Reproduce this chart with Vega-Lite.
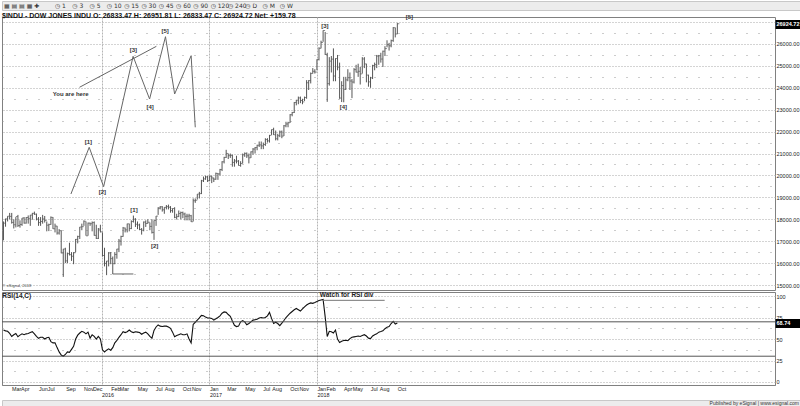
{
"$schema":"https://vega.github.io/schema/vega-lite/v6.json",
"padding":0,
"background":"white",
"spacing":0,
"config":{"view":{"stroke":null},"font":"Liberation Sans Narrow, Liberation Sans, sans-serif","axis":{"labelFont":"Liberation Sans Narrow, Liberation Sans, sans-serif","labelColor":"#222","labelOverlap":false},"axisX":{"labelOverlap":false}},
"datasets":{
"toolbar":[{"i":-2.95,"t":"▦ ▤ ▤ ▦ ✚"},{"i":0,"t":"◷ 1"},{"i":1,"t":"◷ 3"},{"i":2,"t":"◷ 5"},{"i":3,"t":"◷ 10"},{"i":4,"t":"◷ 15"},{"i":5,"t":"◷ 30"},{"i":6,"t":"◷ 45"},{"i":7,"t":"◷ 60"},{"i":8,"t":"◷ 90"},{"i":9,"t":"◷ 120"},{"i":10,"t":"◷ 240"},{"i":11,"t":"◷ D"},{"i":12,"t":"◷ M"},{"i":13,"t":"◷ W"}],
"footer":[{"t":"Published by eSignal | www.esignal.com"}],
"bars":[
{"date":"2015-02-02","h":17900,"l":17040,"c":17824,"rsi":60.5},
{"date":"2015-02-09","h":18030,"l":17660,"c":18019,"rsi":59.5},
{"date":"2015-02-16","h":18140,"l":17900,"c":18140,"rsi":59},
{"date":"2015-02-23","h":18290,"l":18000,"c":18133,"rsi":56.5},
{"date":"2015-03-02","h":18290,"l":17800,"c":17856,"rsi":53},
{"date":"2015-03-09","h":17995,"l":17580,"c":17749,"rsi":55},
{"date":"2015-03-16","h":18100,"l":17630,"c":18128,"rsi":56.5},
{"date":"2015-03-23","h":18200,"l":17650,"c":17713,"rsi":52.7},
{"date":"2015-03-30","h":17950,"l":17620,"c":17763,"rsi":54.5},
{"date":"2015-04-06","h":18060,"l":17700,"c":18057,"rsi":56},
{"date":"2015-04-13","h":18100,"l":17800,"c":17826,"rsi":55},
{"date":"2015-04-20","h":18100,"l":17800,"c":18080,"rsi":56},
{"date":"2015-04-27","h":18175,"l":17800,"c":18024,"rsi":56.5},
{"date":"2015-05-04","h":18200,"l":17700,"c":18191,"rsi":57.5},
{"date":"2015-05-11","h":18290,"l":17980,"c":18272,"rsi":58.5},
{"date":"2015-05-18","h":18350,"l":18200,"c":18232,"rsi":56},
{"date":"2015-05-25","h":18260,"l":17950,"c":18010,"rsi":53},
{"date":"2015-06-01","h":18100,"l":17700,"c":17849,"rsi":50.8},
{"date":"2015-06-08","h":18100,"l":17700,"c":17898,"rsi":52},
{"date":"2015-06-15","h":18200,"l":17800,"c":18015,"rsi":52},
{"date":"2015-06-22","h":18150,"l":17850,"c":17947,"rsi":50},
{"date":"2015-06-29","h":17900,"l":17450,"c":17730,"rsi":51.5},
{"date":"2015-07-06","h":17800,"l":17460,"c":17760,"rsi":52},
{"date":"2015-07-13","h":18130,"l":17750,"c":18087,"rsi":47},
{"date":"2015-07-20","h":18100,"l":17560,"c":17568,"rsi":45.5},
{"date":"2015-07-27","h":17800,"l":17400,"c":17690,"rsi":45.5},
{"date":"2015-08-03","h":17700,"l":17300,"c":17373,"rsi":40},
{"date":"2015-08-10","h":17550,"l":17300,"c":17477,"rsi":35},
{"date":"2015-08-17","h":17500,"l":16450,"c":16460,"rsi":31.4},
{"date":"2015-08-24","h":16650,"l":15370,"c":16643,"rsi":30},
{"date":"2015-08-31","h":16700,"l":16000,"c":16102,"rsi":32},
{"date":"2015-09-07","h":16480,"l":16000,"c":16433,"rsi":35},
{"date":"2015-09-14","h":16930,"l":16350,"c":16384,"rsi":34.5},
{"date":"2015-09-21","h":16500,"l":16100,"c":16314,"rsi":38},
{"date":"2015-09-28","h":16500,"l":15950,"c":16472,"rsi":41.5},
{"date":"2015-10-05","h":17100,"l":16500,"c":17084,"rsi":50},
{"date":"2015-10-12","h":17250,"l":16900,"c":17216,"rsi":54.5},
{"date":"2015-10-19","h":17650,"l":17100,"c":17646,"rsi":57},
{"date":"2015-10-26","h":17800,"l":17500,"c":17663,"rsi":59},
{"date":"2015-11-02","h":17950,"l":17700,"c":17910,"rsi":58},
{"date":"2015-11-09","h":17900,"l":17250,"c":17245,"rsi":56},
{"date":"2015-11-16","h":17850,"l":17250,"c":17824,"rsi":58},
{"date":"2015-11-23","h":17850,"l":17700,"c":17798,"rsi":51},
{"date":"2015-11-30","h":17900,"l":17450,"c":17848,"rsi":55},
{"date":"2015-12-07","h":17900,"l":17250,"c":17265,"rsi":53},
{"date":"2015-12-14","h":17750,"l":17100,"c":17128,"rsi":50},
{"date":"2015-12-21","h":17600,"l":17100,"c":17552,"rsi":53},
{"date":"2015-12-28","h":17750,"l":17400,"c":17425,"rsi":50},
{"date":"2016-01-04","h":17400,"l":16300,"c":16346,"rsi":37.5},
{"date":"2016-01-11","h":16700,"l":15850,"c":15988,"rsi":35},
{"date":"2016-01-18","h":16100,"l":15450,"c":16093,"rsi":37},
{"date":"2016-01-25","h":16500,"l":15850,"c":16466,"rsi":38.5},
{"date":"2016-02-01","h":16500,"l":15950,"c":16204,"rsi":37},
{"date":"2016-02-08","h":16300,"l":15500,"c":15974,"rsi":40},
{"date":"2016-02-15","h":16500,"l":15950,"c":16392,"rsi":45.5},
{"date":"2016-02-22","h":16650,"l":16200,"c":16640,"rsi":48.5},
{"date":"2016-02-29","h":17100,"l":16500,"c":17006,"rsi":52},
{"date":"2016-03-07","h":17250,"l":16800,"c":17213,"rsi":55},
{"date":"2016-03-14","h":17650,"l":17200,"c":17602,"rsi":58.5},
{"date":"2016-03-21","h":17620,"l":17400,"c":17516,"rsi":57.5},
{"date":"2016-03-28","h":17800,"l":17400,"c":17792,"rsi":58.5},
{"date":"2016-04-04","h":17800,"l":17450,"c":17577,"rsi":60.5},
{"date":"2016-04-11","h":17950,"l":17550,"c":17897,"rsi":58.5},
{"date":"2016-04-18","h":18170,"l":17850,"c":18003,"rsi":57.5},
{"date":"2016-04-25","h":18050,"l":17650,"c":17774,"rsi":58.5},
{"date":"2016-05-02","h":17900,"l":17550,"c":17740,"rsi":58},
{"date":"2016-05-09","h":17800,"l":17500,"c":17535,"rsi":57.5},
{"date":"2016-05-16","h":17600,"l":17300,"c":17500,"rsi":55.5},
{"date":"2016-05-23","h":17900,"l":17450,"c":17873,"rsi":57},
{"date":"2016-05-30","h":17950,"l":17650,"c":17807,"rsi":58},
{"date":"2016-06-06","h":18000,"l":17800,"c":17865,"rsi":56},
{"date":"2016-06-13","h":17850,"l":17500,"c":17675,"rsi":53},
{"date":"2016-06-20","h":18000,"l":17350,"c":17400,"rsi":51},
{"date":"2016-06-27","h":17950,"l":17060,"c":17949,"rsi":60},
{"date":"2016-07-04","h":18150,"l":17700,"c":18146,"rsi":64},
{"date":"2016-07-11","h":18550,"l":18200,"c":18516,"rsi":66.4},
{"date":"2016-07-18","h":18600,"l":18450,"c":18570,"rsi":65},
{"date":"2016-07-25","h":18600,"l":18350,"c":18432,"rsi":64.5},
{"date":"2016-08-01","h":18550,"l":18250,"c":18543,"rsi":65},
{"date":"2016-08-08","h":18650,"l":18450,"c":18576,"rsi":65},
{"date":"2016-08-15","h":18670,"l":18450,"c":18552,"rsi":64},
{"date":"2016-08-22","h":18600,"l":18300,"c":18395,"rsi":62.5},
{"date":"2016-08-29","h":18500,"l":18300,"c":18491,"rsi":58},
{"date":"2016-09-05","h":18550,"l":18050,"c":18085,"rsi":52.7},
{"date":"2016-09-12","h":18250,"l":17990,"c":18123,"rsi":54},
{"date":"2016-09-19","h":18400,"l":18100,"c":18261,"rsi":55},
{"date":"2016-09-26","h":18350,"l":18000,"c":18308,"rsi":56},
{"date":"2016-10-03","h":18350,"l":18050,"c":18240,"rsi":55},
{"date":"2016-10-10","h":18300,"l":17950,"c":18138,"rsi":55},
{"date":"2016-10-17","h":18250,"l":17950,"c":18145,"rsi":56},
{"date":"2016-10-24","h":18250,"l":17950,"c":18161,"rsi":50},
{"date":"2016-10-31","h":18200,"l":17880,"c":17888,"rsi":45.5},
{"date":"2016-11-07","h":18950,"l":17900,"c":18847,"rsi":67},
{"date":"2016-11-14","h":18950,"l":18750,"c":18868,"rsi":69.5},
{"date":"2016-11-21","h":19150,"l":18900,"c":19152,"rsi":72},
{"date":"2016-11-28","h":19250,"l":18950,"c":19171,"rsi":74.5},
{"date":"2016-12-05","h":19800,"l":19150,"c":19757,"rsi":77.5},
{"date":"2016-12-12","h":19950,"l":19700,"c":19843,"rsi":77},
{"date":"2016-12-19","h":19990,"l":19800,"c":19934,"rsi":75.5},
{"date":"2016-12-26","h":19980,"l":19700,"c":19763,"rsi":74.5},
{"date":"2017-01-02","h":19999,"l":19750,"c":19964,"rsi":74.5},
{"date":"2017-01-09","h":19990,"l":19650,"c":19886,"rsi":74},
{"date":"2017-01-16","h":19900,"l":19700,"c":19827,"rsi":72},
{"date":"2017-01-23","h":20130,"l":19800,"c":20094,"rsi":73.5},
{"date":"2017-01-30","h":20100,"l":19800,"c":20071,"rsi":75},
{"date":"2017-02-06","h":20300,"l":20000,"c":20270,"rsi":77},
{"date":"2017-02-13","h":20650,"l":20200,"c":20624,"rsi":80},
{"date":"2017-02-20","h":20850,"l":20550,"c":20822,"rsi":81.5},
{"date":"2017-02-27","h":21170,"l":20800,"c":21005,"rsi":81},
{"date":"2017-03-06","h":21000,"l":20750,"c":20903,"rsi":78.5},
{"date":"2017-03-13","h":21000,"l":20800,"c":20914,"rsi":76.5},
{"date":"2017-03-20","h":20950,"l":20400,"c":20596,"rsi":71},
{"date":"2017-03-27","h":20750,"l":20400,"c":20663,"rsi":66},
{"date":"2017-04-03","h":20900,"l":20550,"c":20656,"rsi":64.5},
{"date":"2017-04-10","h":20700,"l":20450,"c":20453,"rsi":65},
{"date":"2017-04-17","h":20650,"l":20400,"c":20548,"rsi":70},
{"date":"2017-04-24","h":21000,"l":20550,"c":20940,"rsi":71.5},
{"date":"2017-05-01","h":21050,"l":20850,"c":21007,"rsi":70},
{"date":"2017-05-08","h":21050,"l":20800,"c":20897,"rsi":66.5},
{"date":"2017-05-15","h":21000,"l":20550,"c":20805,"rsi":68},
{"date":"2017-05-22","h":21100,"l":20800,"c":21080,"rsi":70},
{"date":"2017-05-29","h":21250,"l":20950,"c":21206,"rsi":72},
{"date":"2017-06-05","h":21300,"l":21000,"c":21272,"rsi":72.5},
{"date":"2017-06-12","h":21400,"l":21150,"c":21384,"rsi":73},
{"date":"2017-06-19","h":21550,"l":21300,"c":21395,"rsi":74.5},
{"date":"2017-06-26","h":21550,"l":21200,"c":21350,"rsi":75},
{"date":"2017-07-03","h":21500,"l":21200,"c":21414,"rsi":74.5},
{"date":"2017-07-10","h":21700,"l":21350,"c":21638,"rsi":75},
{"date":"2017-07-17","h":21700,"l":21500,"c":21580,"rsi":77},
{"date":"2017-07-24","h":21850,"l":21500,"c":21830,"rsi":81},
{"date":"2017-07-31","h":22100,"l":21850,"c":22093,"rsi":74},
{"date":"2017-08-07","h":22180,"l":21850,"c":21858,"rsi":68},
{"date":"2017-08-14","h":22050,"l":21600,"c":21675,"rsi":69.5},
{"date":"2017-08-21","h":21900,"l":21600,"c":21814,"rsi":68},
{"date":"2017-08-28","h":22050,"l":21750,"c":21988,"rsi":65.5},
{"date":"2017-09-04","h":22050,"l":21700,"c":21798,"rsi":68.5},
{"date":"2017-09-11","h":22300,"l":21800,"c":22268,"rsi":71.5},
{"date":"2017-09-18","h":22450,"l":22200,"c":22350,"rsi":75},
{"date":"2017-09-25","h":22450,"l":22200,"c":22405,"rsi":77.5},
{"date":"2017-10-02","h":22800,"l":22400,"c":22774,"rsi":80},
{"date":"2017-10-09","h":22900,"l":22700,"c":22871,"rsi":82},
{"date":"2017-10-16","h":23350,"l":22850,"c":23329,"rsi":84},
{"date":"2017-10-23","h":23450,"l":23200,"c":23434,"rsi":85.5},
{"date":"2017-10-30","h":23600,"l":23250,"c":23539,"rsi":84},
{"date":"2017-11-06","h":23600,"l":23300,"c":23422,"rsi":82.5},
{"date":"2017-11-13","h":23500,"l":23250,"c":23358,"rsi":85},
{"date":"2017-11-20","h":23600,"l":23400,"c":23558,"rsi":87.5},
{"date":"2017-11-27","h":24350,"l":23500,"c":24231,"rsi":89.5},
{"date":"2017-12-04","h":24350,"l":23900,"c":24329,"rsi":91},
{"date":"2017-12-11","h":24700,"l":24200,"c":24651,"rsi":92},
{"date":"2017-12-18","h":24900,"l":24650,"c":24754,"rsi":91.5},
{"date":"2017-12-25","h":24850,"l":24650,"c":24719,"rsi":92.5},
{"date":"2018-01-01","h":25300,"l":24800,"c":25295,"rsi":93.6},
{"date":"2018-01-08","h":25850,"l":25250,"c":25803,"rsi":94.7},
{"date":"2018-01-15","h":26150,"l":25800,"c":26071,"rsi":95.5},
{"date":"2018-01-22","h":26620,"l":26100,"c":26616,"rsi":96},
{"date":"2018-01-29","h":26550,"l":25500,"c":25520,"rsi":76},
{"date":"2018-02-05","h":25600,"l":23360,"c":24190,"rsi":53},
{"date":"2018-02-12","h":25400,"l":24100,"c":25219,"rsi":59},
{"date":"2018-02-19","h":25450,"l":24700,"c":25309,"rsi":58.5},
{"date":"2018-02-26","h":25800,"l":24300,"c":24538,"rsi":57},
{"date":"2018-03-05","h":25350,"l":24300,"c":25335,"rsi":60.5},
{"date":"2018-03-12","h":25500,"l":24800,"c":24946,"rsi":50},
{"date":"2018-03-19","h":25150,"l":23500,"c":23533,"rsi":46},
{"date":"2018-03-26","h":24300,"l":23350,"c":24103,"rsi":47.5},
{"date":"2018-04-02","h":24500,"l":23340,"c":23933,"rsi":48.3},
{"date":"2018-04-09","h":24500,"l":23900,"c":24360,"rsi":48.5},
{"date":"2018-04-16","h":24850,"l":24300,"c":24463,"rsi":48},
{"date":"2018-04-23","h":24700,"l":23900,"c":24311,"rsi":50.5},
{"date":"2018-04-30","h":24400,"l":23530,"c":24263,"rsi":52},
{"date":"2018-05-07","h":24900,"l":24200,"c":24831,"rsi":52.5},
{"date":"2018-05-14","h":25050,"l":24700,"c":24715,"rsi":53},
{"date":"2018-05-21","h":25100,"l":24500,"c":24753,"rsi":53.5},
{"date":"2018-05-28","h":24950,"l":24150,"c":24635,"rsi":53},
{"date":"2018-06-04","h":25400,"l":24650,"c":25317,"rsi":54},
{"date":"2018-06-11","h":25400,"l":24900,"c":25090,"rsi":55},
{"date":"2018-06-18","h":25100,"l":24250,"c":24581,"rsi":53.5},
{"date":"2018-06-25","h":24600,"l":24050,"c":24271,"rsi":51},
{"date":"2018-07-02","h":24500,"l":24000,"c":24456,"rsi":50.5},
{"date":"2018-07-09","h":25050,"l":24400,"c":25019,"rsi":53.5},
{"date":"2018-07-16","h":25150,"l":24800,"c":25058,"rsi":55},
{"date":"2018-07-23","h":25500,"l":24900,"c":25451,"rsi":56},
{"date":"2018-07-30","h":25500,"l":25050,"c":25463,"rsi":58},
{"date":"2018-08-06","h":25600,"l":25150,"c":25313,"rsi":58.7},
{"date":"2018-08-13","h":25700,"l":24950,"c":25669,"rsi":59.5},
{"date":"2018-08-20","h":25900,"l":25450,"c":25790,"rsi":62},
{"date":"2018-08-27","h":26170,"l":25850,"c":25965,"rsi":63.8},
{"date":"2018-09-03","h":26050,"l":25700,"c":25917,"rsi":64.4},
{"date":"2018-09-10","h":26200,"l":25850,"c":26154,"rsi":68},
{"date":"2018-09-17","h":26770,"l":26100,"c":26743,"rsi":70.5},
{"date":"2018-09-24","h":26750,"l":26300,"c":26458,"rsi":67.5},
{"date":"2018-10-01","h":26952,"l":26450,"c":26925,"rsi":68.74}
],
"sketch":[
{"g":"wave","o":0,"date":"2015-09-19","p":19153},
{"g":"wave","o":1,"date":"2015-11-20","p":21285},
{"g":"wave","o":2,"date":"2016-01-08","p":19487},
{"g":"wave","o":3,"date":"2016-04-17","p":25438},
{"g":"wave","o":4,"date":"2016-06-12","p":23489},
{"g":"wave","o":5,"date":"2016-08-05","p":26333},
{"g":"wave","o":6,"date":"2016-09-05","p":23717},
{"g":"wave","o":7,"date":"2016-10-31","p":25466},
{"g":"wave","o":8,"date":"2016-11-14","p":22198},
{"g":"ptr","o":0,"date":"2015-10-18","p":24023},
{"g":"ptr","o":1,"date":"2016-07-05","p":25894},
{"g":"base","o":0,"date":"2016-02-08","p":15503},
{"g":"base","o":1,"date":"2016-04-18","p":15503}
],
"notes":[
{"date":"2015-09-18","p":23704,"t":"You are here"},
{"date":"2015-11-17","p":21540,"t":"[1]"},
{"date":"2016-01-04","p":19231,"t":"[2]"},
{"date":"2016-04-18","p":25739,"t":"[3]"},
{"date":"2016-06-14","p":23138,"t":"[4]"},
{"date":"2016-08-04","p":26579,"t":"[5]"},
{"date":"2016-04-20","p":18437,"t":"[1]"},
{"date":"2016-06-29","p":16794,"t":"[2]"},
{"date":"2018-01-28","p":26835,"t":"[3]"},
{"date":"2018-04-01","p":23124,"t":"[4]"},
{"date":"2018-11-11","p":27218,"t":"[5]"}
],
"copy":[{"date":"2015-01-30","p":14950,"t":"© eSignal, 2018"}],
"rsinotes":[
{"date":"2015-01-29","v":100,"t":"RSI(14,C)"},
{"date":"2018-01-11","v":101,"t":"Watch for RSI div"}
],
"watch":[{"date":"2018-01-21","date2":"2018-08-19","v":95}],
"levels":[{"v":70},{"v":30}]
},
"vconcat":[
{
"width":800,"height":9,
"view":{"fill":"#ececec","stroke":"#c8c8c8"},
"data":{"name":"toolbar"},
"mark":{"type":"text","align":"left","baseline":"middle","fontSize":6,"font":"DejaVu Sans","color":"#333"},
"encoding":{
"x":{"field":"i","type":"quantitative","scale":{"domain":[-3.06,43.18],"nice":false,"zero":false},"axis":null},
"text":{"field":"t"}
}
},
{
"width":773,"height":273,
"view":{"fill":"white","stroke":"#808080"},
"title":{"text":"$INDU - DOW JONES INDU    O: 26833.47    H: 26951.81    L: 26833.47    C: 26924.72    Net: +159.78","anchor":"start","fontSize":7,"fontWeight":"bold","offset":-5,"color":"#111","font":"Liberation Sans Narrow, Liberation Sans, sans-serif"},
"resolve":{"axis":{"y":"independent"}},
"layer":[
{
"data":{"name":"bars"},
"mark":{"type":"rule","color":"#555","strokeWidth":1},
"encoding":{
"x":{"field":"date","type":"temporal","scale":{"type":"utc","domain":[{"year":2015,"month":1,"date":28,"utc":true},{"year":2022,"month":4,"date":5,"utc":true}]},
"axis":{"values":[{"year":2016,"month":1,"date":1,"utc":true},{"year":2017,"month":1,"date":1,"utc":true},{"year":2018,"month":1,"date":1,"utc":true}],"tickCount":100,"labels":false,"ticks":false,"domain":false,"grid":true,"gridColor":"#b5b5b5","gridDash":[2,1],"title":null}},
"y":{"field":"h","type":"quantitative","scale":{"domain":[14772,27232],"nice":false,"zero":false},
"axis":{"orient":"right","values":[15000,16000,17000,18000,19000,20000,21000,22000,23000,24000,25000,26000,27000],"tickCount":100,"labelExpr":"datum.value == 27000 ? '' : format(datum.value, '.2f')","ticks":false,"domain":false,"grid":true,"gridDash":[1,2],"gridColor":"#a8a8a8","labelFontSize":5.5,"labelPadding":1,"title":null}},
"y2":{"field":"l"}
}
},
{
"data":{"name":"bars"},
"mark":{"type":"tick","orient":"horizontal","size":2,"thickness":1,"color":"#555","xOffset":1},
"encoding":{
"x":{"field":"date","type":"temporal"},
"y":{"field":"c","type":"quantitative","axis":{"orient":"left","values":[15500,16500,17500,18500,19500,20500,21500,22500,23500,24500,25500,26500],"tickCount":100,"labels":false,"ticks":false,"domain":false,"grid":true,"gridDash":[1,11],"gridColor":"#999","title":null}}
}
},
{
"data":{"name":"sketch"},
"mark":{"type":"line","color":"#666","strokeWidth":1},
"encoding":{
"x":{"field":"date","type":"temporal"},
"y":{"field":"p","type":"quantitative","axis":null},
"order":{"field":"o"},
"detail":{"field":"g"}
}
},
{
"data":{"name":"copy"},
"mark":{"type":"text","align":"left","baseline":"middle","fontSize":4,"color":"#444"},
"encoding":{
"x":{"field":"date","type":"temporal"},
"y":{"field":"p","type":"quantitative","axis":null},
"text":{"field":"t"}
}
},
{
"data":{"name":"notes"},
"mark":{"type":"text","baseline":"middle","fontSize":6,"fontWeight":"bold","color":"#333"},
"encoding":{
"x":{"field":"date","type":"temporal"},
"y":{"field":"p","type":"quantitative","axis":{"orient":"right","values":[26924.72],"format":".2f","grid":false,"domain":false,"ticks":true,"tickSize":26,"tickWidth":9,"tickColor":"#000","labelColor":"#fff","labelFontWeight":"bold","labelFontSize":5.5,"labelPadding":-25,"title":null}},
"text":{"field":"t"}
}
}
]
},
{
"width":773,"height":93,
"view":{"fill":"white","stroke":"#808080"},
"resolve":{"axis":{"y":"independent"}},
"layer":[
{
"data":{"name":"bars"},
"mark":{"type":"line","color":"#111","strokeWidth":1.1},
"encoding":{
"x":{"field":"date","type":"temporal","scale":{"type":"utc","domain":[{"year":2015,"month":1,"date":28,"utc":true},{"year":2022,"month":4,"date":5,"utc":true}]},
"axis":{"values":[
{"year":2015,"month":3,"date":1,"utc":true},{"year":2015,"month":4,"date":1,"utc":true},{"year":2015,"month":6,"date":1,"utc":true},{"year":2015,"month":7,"date":1,"utc":true},{"year":2015,"month":9,"date":1,"utc":true},{"year":2015,"month":11,"date":1,"utc":true},{"year":2015,"month":12,"date":1,"utc":true},
{"year":2016,"month":1,"date":1,"utc":true},{"year":2016,"month":2,"date":1,"utc":true},{"year":2016,"month":3,"date":1,"utc":true},{"year":2016,"month":5,"date":1,"utc":true},{"year":2016,"month":7,"date":1,"utc":true},{"year":2016,"month":8,"date":1,"utc":true},{"year":2016,"month":10,"date":1,"utc":true},{"year":2016,"month":11,"date":1,"utc":true},
{"year":2017,"month":1,"date":1,"utc":true},{"year":2017,"month":3,"date":1,"utc":true},{"year":2017,"month":5,"date":1,"utc":true},{"year":2017,"month":7,"date":1,"utc":true},{"year":2017,"month":8,"date":1,"utc":true},{"year":2017,"month":10,"date":1,"utc":true},{"year":2017,"month":11,"date":1,"utc":true},
{"year":2018,"month":1,"date":1,"utc":true},{"year":2018,"month":2,"date":1,"utc":true},{"year":2018,"month":4,"date":1,"utc":true},{"year":2018,"month":5,"date":1,"utc":true},{"year":2018,"month":7,"date":1,"utc":true},{"year":2018,"month":8,"date":1,"utc":true},{"year":2018,"month":10,"date":1,"utc":true}],
"tickCount":100,
"labelExpr":"utcmonth(datum.value) == 0 ? [utcyear(datum.value) == 2016 ? ' ' : 'Jan', '' + utcyear(datum.value)] : utcFormat(datum.value, '%b')",
"labelAlign":"left","labelBaseline":"top","labelFontSize":5.4,"labelLineHeight":6.5,"labelOverlap":false,"labelSeparation":0,"labelFlush":false,"labelBound":false,"labelPadding":1,
"ticks":false,"domain":true,"domainColor":"#808080",
"grid":true,"gridColor":"#b5b5b5","gridDash":[2,1],"gridOpacity":{"condition":{"test":"utcmonth(datum.value) == 0","value":1},"value":0},
"title":null}},
"y":{"field":"rsi","type":"quantitative","scale":{"domain":[-3.5,104.7],"nice":false,"zero":false},
"axis":{"orient":"right","values":[0,25,50,75,100],"tickCount":100,"format":"d","ticks":false,"domain":false,"grid":true,"gridDash":[1,2],"gridColor":"#a8a8a8","labelFontSize":5.5,"labelPadding":1,"title":null}}
}
},
{
"data":{"name":"levels"},
"mark":{"type":"rule","color":"#555","strokeWidth":1},
"encoding":{
"y":{"field":"v","type":"quantitative","axis":{"orient":"left","values":[12.5,37.5,62.5,87.5],"tickCount":100,"labels":false,"ticks":false,"domain":false,"grid":true,"gridDash":[1,11],"gridColor":"#999","title":null}}
}
},
{
"data":{"name":"watch"},
"mark":{"type":"rule","color":"#777","strokeWidth":1},
"encoding":{
"x":{"field":"date","type":"temporal"},
"x2":{"field":"date2"},
"y":{"field":"v","type":"quantitative","axis":null}
}
},
{
"data":{"name":"rsinotes"},
"mark":{"type":"text","align":"left","baseline":"middle","fontSize":6.5,"fontWeight":"bold","color":"#222"},
"encoding":{
"x":{"field":"date","type":"temporal"},
"y":{"field":"v","type":"quantitative","axis":{"orient":"right","values":[68.74],"format":".2f","grid":false,"domain":false,"ticks":true,"tickSize":26,"tickWidth":9,"tickColor":"#000","labelColor":"#fff","labelFontWeight":"bold","labelFontSize":5.5,"labelPadding":-25,"title":null}},
"text":{"field":"t"}
}
}
]
},
{
"width":800,"height":6,
"view":{"fill":"#ececec","stroke":"#c8c8c8"},
"data":{"name":"footer"},
"mark":{"type":"text","align":"right","baseline":"middle","fontSize":5,"dx":-3,"color":"#333"},
"encoding":{
"x":{"datum":1,"type":"quantitative","scale":{"domain":[0,1]},"axis":null},
"text":{"field":"t"}
}
}
]
}
